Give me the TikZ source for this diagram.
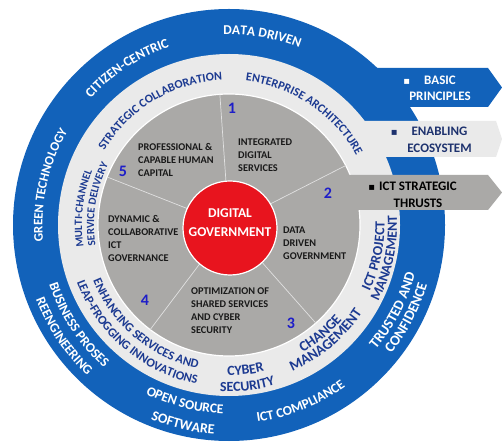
\documentclass[tikz,border=0pt]{standalone}
\usepackage{fontspec}
\setmainfont{Carlito}
\newfontfamily\dejavu{DejaVu Sans}
\usetikzlibrary{decorations.text}
\definecolor{ringblue}{RGB}{18,98,186}
\definecolor{lightring}{RGB}{234,234,234}
\definecolor{diskgray}{RGB}{170,169,167}
\definecolor{redc}{RGB}{232,20,30}
\definecolor{navy}{RGB}{28,58,145}
\definecolor{enabnavy}{RGB}{30,50,110}
\definecolor{numblue}{RGB}{30,30,200}
\definecolor{sectxt}{RGB}{25,25,25}
\definecolor{secline}{RGB}{225,225,225}

\newcommand{\cwtext}[5]{%
 \pgfmathsetmacro{\myarcsa}{#1+55}\pgfmathsetmacro{\myarcea}{#1-55}%
 \path[decorate,decoration={text along path,text align=center,
   text={|\fontsize{#3}{#3}\selectfont\bfseries\color{#4}|#5}}]
   (\myarcsa:#2) arc[start angle=\myarcsa,end angle=\myarcea,radius=#2];}
\newcommand{\ccwtext}[5]{%
 \pgfmathsetmacro{\myarcsa}{#1-55}\pgfmathsetmacro{\myarcea}{#1+55}%
 \path[decorate,decoration={text along path,text align=center,
   text={|\fontsize{#3}{#3}\selectfont\bfseries\color{#4}|#5}}]
   (\myarcsa:#2) arc[start angle=\myarcsa,end angle=\myarcea,radius=#2];}

\tikzset{
  sectortext/.style={anchor=west, align=left, inner sep=0pt, text=sectxt,
    font=\bfseries\fontsize{10.3}{13}\selectfont},
  numtext/.style={inner sep=0pt, text=numblue, font=\bfseries\fontsize{16}{18}\selectfont},
  bannertext/.style={align=center, inner sep=0pt, font=\bfseries\fontsize{13}{16.5}\selectfont},
  redcirc/.style={circle, fill=redc, draw=white, line width=1.2pt, minimum size=94pt, inner sep=0pt},
  redtext/.style={align=center, inner sep=0pt, text=white, font=\bfseries\fontsize{13.5}{19}\selectfont},
  secline/.style={draw=secline, line width=0.7pt},
}
\newcommand{\bul}{{\dejavu\fontsize{10}{10}\selectfont ▪}}

\begin{document}
\begin{tikzpicture}[x=1pt,y=1pt]
\useasboundingbox (0,0) rectangle (502,444);
\fill[white] (0,0) rectangle (502,444);
% blue banner
\fill[ringblue] (340,376) -- (488,376) -- (502,356.5) -- (488,337) -- (340,337) -- cycle;
\begin{scope}[shift={(229,219)}]
  \fill[ringblue] (0,0) circle[radius=216];
  \fill[lightring] (0,0) circle[radius=171];
\end{scope}
% enabling banner
\fill[lightring] (360,323) -- (496,323) -- (502,305) -- (496,287) -- (360,287) -- cycle;
\begin{scope}[shift={(229,219)}]
  \filldraw[fill=diskgray, draw=white, line width=1.2pt] (0,0) circle[radius=131];
\end{scope}
% ICT banner
\fill[diskgray] (300,269) -- (488,269) -- (502,251.5) -- (488,234) -- (300,234) -- cycle;
\begin{scope}[shift={(229,219)}]
  \draw[secline] (94:40) -- (94:131);
  \draw[secline] (27:40) -- (27:131);
  \draw[secline] (-48.5:40) -- (-48.5:131);
  \draw[secline] (-127:40) -- (-127:131);
  \draw[secline] (158.5:40) -- (158.5:131);
\end{scope}
\node[redcirc] (dg) at (230,216) {};
\node[redtext] (dgt) at (230,221.5) {DIGITAL\\GOVERNMENT};

% sector texts
\node[sectortext] (pc) at (138,284) {PROFESSIONAL \&\\CAPABLE HUMAN\\CAPITAL};
\node[sectortext] (ids) at (238,289) {INTEGRATED\\DIGITAL\\SERVICES};
\node[sectortext] (ddg) at (283,201) {DATA\\DRIVEN\\GOVERNMENT};
\node[sectortext] (oss) at (191,133) {OPTIMIZATION OF\\SHARED SERVICES\\AND CYBER\\SECURITY};
\node[sectortext] (dcg) at (108,206) {DYNAMIC \&\\COLLABORATIVE\\ICT\\GOVERNANCE};

\node[numtext] (n1) at (232,336) {1};
\node[numtext] (n2) at (328,251) {2};
\node[numtext] (n3) at (291,121) {3};
\node[numtext] (n4) at (145,144) {4};
\node[numtext] (n5) at (123,273) {5};

% banner texts
\node[bannertext, text=white] (bp) at (440,355.5) {\llap{\bul\hspace{14pt}}BASIC\\PRINCIPLES};
\node[bannertext, text=enabnavy] (ee) at (439.5,304) {\llap{\bul\hspace{14pt}}ENABLING\\ECOSYSTEM};
\node[bannertext, text=black] (ict) at (418,249) {\llap{\bul\hspace{4pt}}ICT STRATEGIC\\THRUSTS};

\begin{scope}[shift={(229,219)}]
  % light ring
  \cwtext{121}{145}{12}{navy}{STRATEGIC COLLABORATION}
  \cwtext{56}{145}{12}{navy}{ENTERPRISE ARCHITECTURE}
  \ccwtext{-12}{155.5}{14}{navy}{ICT PROJECT}
  \ccwtext{-12}{168}{14}{navy}{MANAGEMENT}
  \ccwtext{-50}{147.5}{14.5}{navy}{CHANGE}
  \ccwtext{-50}{159.5}{14.5}{navy}{MANAGEMENT}
  \ccwtext{-83.5}{150.5}{14}{navy}{CYBER}
  \ccwtext{-83.5}{166.5}{14}{navy}{SECURITY}
  \ccwtext{230}{147}{12.5}{navy}{ENHANCING SERVICES AND}
  \ccwtext{229.5}{162.5}{12.5}{navy}{LEAP-FROGGING INNOVATIONS}
  \cwtext{173.5}{147}{11}{navy}{MULTI-CHANNEL}
  \cwtext{171}{135}{11}{navy}{SERVICE DELIVERY}
  % blue ring
  \cwtext{80}{190.5}{13.5}{white}{DATA DRIVEN}
  \cwtext{123}{187.5}{13.5}{white}{CITIZEN-CENTRIC}
  \cwtext{167.5}{186.5}{13}{white}{GREEN TECHNOLOGY}
  \ccwtext{213.5}{189.5}{13.5}{white}{BUSINESS PROSES}
  \ccwtext{214}{207}{13.5}{white}{REENGINEERING}
  \ccwtext{256}{188.5}{13.5}{white}{OPEN SOURCE}
  \ccwtext{257}{209.5}{14}{white}{SOFTWARE}
  \ccwtext{-68}{199}{13.5}{white}{ICT COMPLIANCE}
  \ccwtext{-27.5}{192.5}{14.5}{white}{TRUSTED AND}
  \ccwtext{-27.5}{207}{14.5}{white}{CONFIDENCE}
\end{scope}
\end{tikzpicture}
\end{document}
